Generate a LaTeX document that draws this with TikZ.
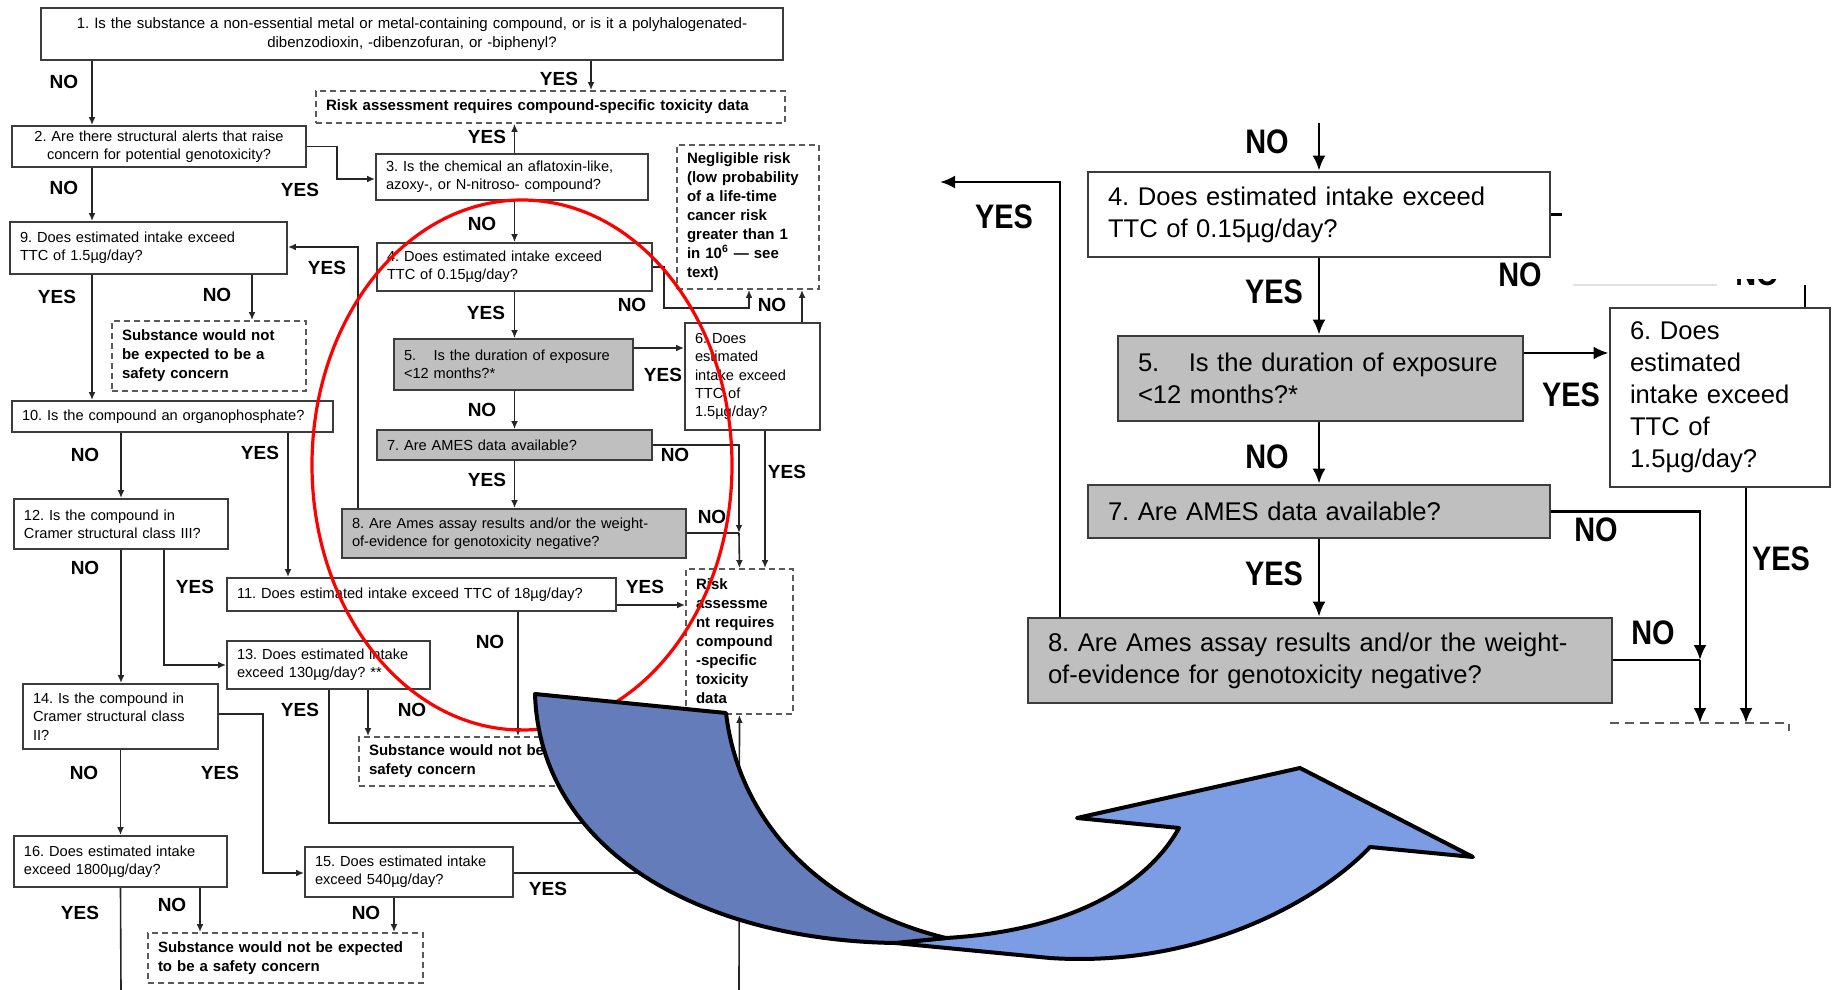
\documentclass[tikz,border=0pt]{standalone}
\usepackage{fontspec}
\setmainfont{Liberation Sans}
\newfontfamily\lblfont[FakeStretch=0.85]{Liberation Sans}
\usetikzlibrary{arrows.meta}
\frenchspacing

\definecolor{boxline}{HTML}{3C3C3C}
\definecolor{boxgray}{HTML}{BEBFBE}
\definecolor{dashline}{HTML}{5A5A5A}
\definecolor{arcred}{HTML}{FF0000}
\definecolor{bluedark}{HTML}{657CBA}
\definecolor{bluelight}{HTML}{7C9CE4}

\tikzset{
  box/.style={draw=boxline, line width=0.9pt, fill=white, inner xsep=5pt, inner ysep=1pt, align=left, font=\fontsize{7.3}{9.2}\selectfont},
  gbox/.style={box, fill=boxgray},
  dbox/.style={box, draw=dashline, dash pattern=on 3pt off 2pt, font=\fontsize{7.5}{9.5}\selectfont\bfseries},
  wh/.style 2 args={minimum width=#1pt, minimum height=#2pt, text width={#1pt-10pt}},
  lbl/.style={font=\fontsize{9.5}{10}\selectfont\bfseries, inner sep=0pt},
  arr/.style={draw=black!85, line width=0.8pt, -{Latex[length=4pt,width=3.4pt]}},
  conn/.style={draw=black!85, line width=0.8pt},
  rbox/.style={draw=boxline, line width=1.4pt, fill=white, inner xsep=10pt, inner ysep=1pt, align=left, font=\fontsize{12.8}{16}\selectfont},
  rgbox/.style={rbox, fill=boxgray},
  rwh/.style 2 args={minimum width=#1pt, minimum height=#2pt, text width={#1pt-20pt}},
  rlbl/.style={font=\lblfont\fontsize{17}{18}\selectfont\bfseries, inner sep=0pt},
  rarr/.style={draw=black, line width=1.3pt, -{Latex[length=7.5pt,width=6.5pt]}},
  rconn/.style={draw=black, line width=1.3pt},
  fold/.style={draw=black, line width=2pt, line join=round},
}

\begin{document}
\begin{tikzpicture}[x=0.5pt, y=-0.5pt]
  \useasboundingbox (0,0) rectangle (1833,990);

  %%columns and bends
  \coordinate (c92) at (92,0);
  \coordinate (c591) at (591,0);
  \coordinate (c252) at (252,0);
  \coordinate (c802) at (802,0);
  \coordinate (c765) at (765,0);
  \coordinate (c358) at (358,0);
  \coordinate (c288) at (288,0);
  \coordinate (c518) at (518,0);
  \coordinate (c164) at (164,0);
  \coordinate (c368) at (368,0);
  \coordinate (c329) at (329,0);
  \coordinate (c394) at (394,0);
  \coordinate (c200) at (200,0);
  \coordinate (c247) at (0,247);
  \coordinate (c348) at (0,348);
  \coordinate (c605) at (0,605);
  \coordinate (c714) at (0,714);
  \coordinate (k2) at (337,179);
  \coordinate (k4a) at (664,308);
  \coordinate (k4b) at (749,308);
  \coordinate (k7) at (739,533);
  \coordinate (k13) at (739,823);
  \coordinate (k14) at (263,873);
  \coordinate (k15) at (739,873);
  \coordinate (kend) at (121,990);
  \coordinate (kbot) at (739,990);

  %%left chart, boxes
  \node[box, wh={371}{26}, align=center, font=\fontsize{7.5}{9.2}\selectfont] (b1) at (412,34) {1. Is the substance a non-essential metal or metal-containing compound, or is it a polyhalogenated-\\dibenzodioxin, -dibenzofuran, or -biphenyl?};
  \node[dbox, wh={234.5}{16}] (rA) at (550.5,107) {Risk assessment requires compound-specific toxicity data};
  \node[box, wh={147}{20.5}, align=center] (b2) at (159,146.5) {2. Are there structural alerts that raise\\concern for potential genotoxicity?};
  \node[box, wh={136}{23}] (b3) at (512,177) {3. Is the chemical an aflatoxin-like,\\azoxy-, or N-nitroso- compound?};
  \node[dbox, wh={71}{72}] (neg) at (748,217) {Negligible risk\\(low probability\\of a life-time\\cancer risk\\greater than 1\\in 10\textsuperscript{6} — see\\text)};
  \node[box, wh={137.5}{24}] (b4) at (514.5,267) {4. Does estimated intake exceed\\TTC of 0.15µg/day?};
  \node[box, wh={138.5}{26}] (b9) at (148.5,248) {9. Does estimated intake exceed\\TTC of 1.5µg/day?};
  \node[dbox, wh={97}{35}] (sA) at (209,356) {Substance would not\\be expected to be a\\safety concern};
  \node[gbox, wh={119.5}{25.5}] (b5) at (513.5,364.5) {5.\hspace{1.2em}Is the duration of exposure\\<12 months?*};
  \node[box, wh={67.5}{53.5}] (b6) at (752.5,376.5) {6. Does\\estimated\\intake exceed\\TTC of\\1.5µg/day?};
  \node[box, wh={160.5}{15.5}] (b10) at (172.5,416.5) {10. Is the compound an organophosphate?};
  \node[gbox, wh={137.5}{15}] (b7) at (514.5,445) {7. Are AMES data available?};
  \node[gbox, wh={172}{24.5}] (b8) at (514,533.5) {8. Are Ames assay results and/or the weight-\\of-evidence for genotoxicity negative?};
  \node[box, wh={107}{25}] (b12) at (121,524) {12. Is the compound in\\Cramer structural class III?};
  \node[dbox, wh={53.5}{72.5}] (rB) at (739.5,641.5) {Risk\\assessme\\nt requires\\compound\\-specific\\toxicity\\data};
  \node[box, wh={194.5}{16.5}] (b11) at (421.5,594.5) {11. Does estimated intake exceed TTC of 18µg/day?};
  \node[box, wh={101.5}{24}] (b13) at (328.5,665) {13. Does estimated intake\\exceed 130µg/day? **};
  \node[box, wh={97.5}{32.5}] (b14) at (120.5,716.5) {14. Is the compound in\\Cramer structural class\\II?};
  \node[dbox, wh={165.5}{24.5}] (sB) at (524.5,761.5) {Substance would not be expected to be a\\safety concern};
  \node[box, wh={106.5}{25.5}] (b16) at (120.5,861.5) {16. Does estimated intake\\exceed 1800µg/day?};
  \node[box, wh={104}{25}] (b15) at (409,872) {15. Does estimated intake\\exceed 540µg/day?};
  \node[dbox, wh={137.5}{25}] (sC) at (285.5,958) {Substance would not be expected\\to be a safety concern};

  %%left chart, connectors
  \draw[arr] (b1.south -| c92) -- (b2.north -| c92);
  \draw[arr] (b1.south -| c591) -- (rA.north -| c591);
  \draw[arr] (b2.east) -| (k2) -- (b3.west |- k2);
  \draw[arr] (b3.north -| b4.north) -- (rA.south -| b4.north);
  \draw[arr] (b3.south -| b4.north) -- (b4.north);
  \draw[arr] (b2.south -| c92) -- (b9.north -| c92);
  \draw[arr] (b9.south -| c92) -- (b10.north -| c92);
  \draw[arr] (b9.south -| c252) -- (sA.north -| c252);
  \draw[arr] (b4.south) -- (b5.north -| b4.south);
  \draw[arr] (b4.east) -| (k4a) -- (k4b) -- (neg.south -| k4b);
  \draw[arr] (b6.north -| c802) -- (neg.south -| c802);
  \draw[arr] (b5.east |- c348) -- (b6.west |- c348);
  \draw[arr] (b5.south -| b4.south) -- (b7.north -| b4.south);
  \draw[arr] (b7.south) -- (b8.north -| b7.south);
  \draw[arr] (b7.east) -| (k7);
  \draw[arr] (k7) -- (rB.north);
  \draw[conn] (b8.east |- k7) -- (k7);
  \draw[arr] (b6.south -| c765) -- (rB.north -| c765);
  \draw[arr] (b8.north -| c358) |- (b9.east |- c247);
  \draw[arr] (b10.south -| b12.north) -- (b12.north);
  \draw[arr] (b10.south -| c288) -- (b11.north -| c288);
  \draw[arr] (b11.east |- c605) -- (rB.west |- c605);
  \draw[arr] (b11.south -| c518) -- (sB.north -| c518);
  \draw[arr] (b12.south) -- (b14.north -| b12.south);
  \draw[arr] (b12.south -| c164) |- (b13.west);
  \draw[arr] (b13.south -| c368) -- (sB.north -| c368);
  \draw[conn] (b13.south -| c329) |- (k13);
  \draw[arr] (b14.south) -- (b16.north -| b14.south);
  \draw[arr] (b14.east |- c714) -| (k14) -- (b15.west |- k14);
  \draw[conn] (b15.east |- k15) -- (k15);
  \draw[arr] (b15.south -| c394) -- (sC.north -| c394);
  \draw[arr] (b16.south -| c200) -- (sC.north -| c200);
  \draw[conn] (b16.south) -- (kend);
  \draw[arr] (kbot) -- (rB.south);

  %%left chart, labels
  \node[lbl] (n1) at (64,82) {NO};
  \node[lbl] (y1) at (559,79) {YES};
  \node[lbl] (y3) at (487,137) {YES};
  \node[lbl] (y2) at (300,190) {YES};
  \node[lbl] (n2) at (64,188) {NO};
  \node[lbl] (n3) at (482,224) {NO};
  \node[lbl] (y9) at (57,297) {YES};
  \node[lbl] (n9) at (217,295) {NO};
  \node[lbl] (y8) at (327,268) {YES};
  \node[lbl] (y4) at (486,313) {YES};
  \node[lbl] (n4) at (632,305) {NO};
  \node[lbl] (n6) at (772,305) {NO};
  \node[lbl] (y5) at (663,375) {YES};
  \node[lbl] (n5) at (482,410) {NO};
  \node[lbl] (n10) at (85,455) {NO};
  \node[lbl] (y10) at (260,453) {YES};
  \node[lbl] (n7) at (675,455) {NO};
  \node[lbl] (y6) at (787,472) {YES};
  \node[lbl] (y7) at (487,480) {YES};
  \node[lbl] (n8) at (712,517) {NO};
  \node[lbl] (n12) at (85,568) {NO};
  \node[lbl] (y12) at (195,587) {YES};
  \node[lbl] (y11) at (645,587) {YES};
  \node[lbl] (n11) at (490,642) {NO};
  \node[lbl] (y13) at (300,710) {YES};
  \node[lbl] (n13) at (412,710) {NO};
  \node[lbl] (n14) at (84,773) {NO};
  \node[lbl] (y14) at (220,773) {YES};
  \node[lbl] (y15) at (548,889) {YES};
  \node[lbl] (n16) at (172,905) {NO};
  \node[lbl] (y16) at (80,913) {YES};
  \node[lbl] (n15) at (366,913) {NO};

  %%close-up, boxes
  \coordinate (rin) at (1319,123);
  \coordinate (rout) at (940,182);
  \coordinate (c1060) at (1060,0);
  \coordinate (c1746) at (1746,0);
  \coordinate (c353) at (0,353);
  \coordinate (rstub) at (1562,215);
  \coordinate (rk) at (1700,660);
  \coordinate (rCa) at (1610,723);
  \coordinate (rCb) at (1789,723);
  \coordinate (f1) at (1573,285);
  \coordinate (f2) at (1717,285);
  \coordinate (f6) at (1805,285);
  \node[rbox, rwh={231}{42.5}] (R4) at (1319,214.5) {4. Does estimated intake exceed\\TTC of 0.15µg/day?};
  \node[rgbox, rwh={202.5}{42.5}] (R5) at (1320.5,378.5) {5.\hspace{1.15em}Is the duration of exposure\\<12 months?*};
  \node[rbox, rwh={110}{89.5}] (R6) at (1720,397.5) {6. Does\\estimated\\intake exceed\\TTC of\\1.5µg/day?};
  \node[rgbox, rwh={231}{26.5}] (R7) at (1319,511.5) {7. Are AMES data available?};
  \node[rgbox, rwh={292}{42.5}] (R8) at (1320,660.5) {8. Are Ames assay results and/or the weight-\\of-evidence for genotoxicity negative?};

  %%close-up, connectors
  \draw[rarr] (rin) -- (R4.north);
  \draw[rarr] (R8.north -| c1060) |- (rout);
  \draw[rarr] (R4.south) -- (R5.north -| R4.south);
  \draw[rconn] (R4.east) -- (R4.east -| rstub);
  \draw[draw=black!12, line width=0.6pt] (f1) -- (f2);
  \draw[rconn] (f6) -- (R6.north -| f6);
  \draw[rarr] (R5.east |- c353) -- (R6.west |- c353);
  \draw[rarr] (R5.south -| R4.south) -- (R7.north);
  \draw[rarr] (R7.south) -- (R8.north -| R7.south);
  \draw[rarr] (R7.east) -| (rk);
  \draw[rarr] (rk) -- (rk |- rCa);
  \draw[rconn] (R8.east |- rk) -- (rk);
  \draw[rarr] (R6.south -| c1746) -- (c1746 |- rCa);
  \draw[draw=dashline, line width=1.2pt, dash pattern=on 4.5pt off 3pt] (rCa) -- (rCb) -- ++(0,8);

  %%close-up, labels
  \node[rlbl] (rn1) at (1267,142) {NO};
  \node[rlbl] (ry8) at (1004,217) {YES};
  \node[rlbl] (ry4) at (1274,292) {YES};
  \node[rlbl] (rn4) at (1520,275) {NO};
  \node[rlbl] (ry5) at (1571,395) {YES};
  \node[rlbl] (rn5) at (1267,457) {NO};
  \node[rlbl] (rn7) at (1596,530) {NO};
  \node[rlbl] (ry7) at (1274,574) {YES};
  \node[rlbl] (rn8) at (1653,633) {NO};
  \node[rlbl] (ry6) at (1781,559) {YES};
  \begin{scope}
    \clip (1725,279) rectangle (1790,288);
    \node[rlbl] (rn6) at (1757,274) {NO};
  \end{scope}

  %%red ring
  \draw[arcred, line width=1.6pt] (522,465) ellipse [x radius=210, y radius=265];

  %%blue arrow
  \filldraw[fold, fill=bluelight] (895,943) -- (1050,958) .. controls (1200,968) and (1320,900) .. (1370,847)
    -- (1473,857) -- (1300,768) -- (1077,818) -- (1179,828)
    .. controls (1150,880) and (1080,930) .. (946,938) -- cycle;
  \filldraw[fold, fill=bluedark] (535,694) -- (726,713) .. controls (740,830) and (830,910) .. (946,938)
    -- (895,943) .. controls (700,940) and (540,850) .. (535,694) -- cycle;
\end{tikzpicture}
\end{document}
